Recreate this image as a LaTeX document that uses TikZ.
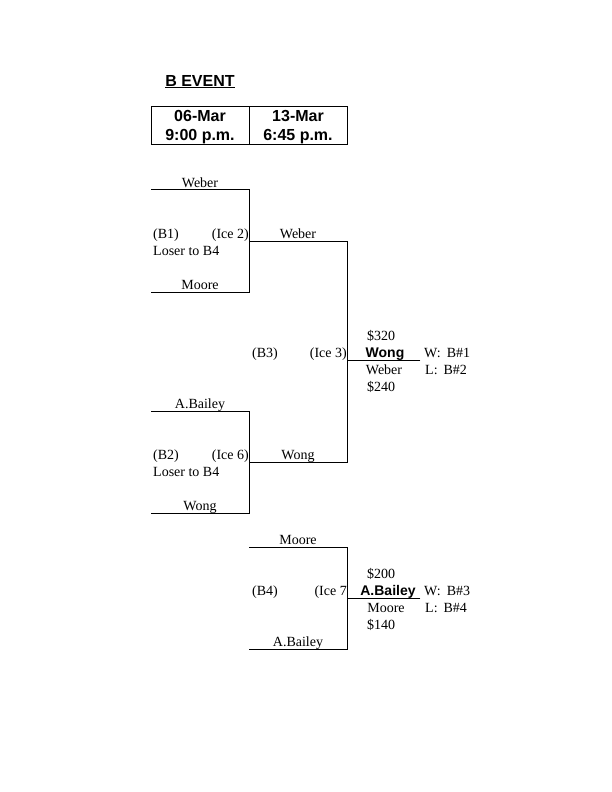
\documentclass[tikz,border=0pt]{standalone}
\usepackage{fontspec}
\setmainfont{Liberation Serif}
\setsansfont{Liberation Sans}
\begin{document}
\begin{tikzpicture}[x=1pt,y=-1pt,
  lbl/.style={font=\fontsize{14}{16}\selectfont, inner sep=0pt, anchor=base},
  lbll/.style={lbl, anchor=base west},
  lblr/.style={lbl, anchor=base east},
  bld/.style={font=\sffamily\bfseries\fontsize{14}{16}\selectfont, inner sep=0pt, anchor=base},
  hdr/.style={font=\sffamily\bfseries\fontsize{16}{19}\selectfont, inner sep=0pt, anchor=base},
  br/.style={line width=0.9pt, line cap=rect}]
\useasboundingbox (0,0) rectangle (612,792);
\fill[white] (0,0) rectangle (612,792);

% header
\node[hdr] (title) at (200,86) {\underline{B EVENT}};
\coordinate (hbtl) at (151,106);
\coordinate (hbbr) at (347,144);
\coordinate (hdt) at (249,106);
\coordinate (hdb) at (249,144);
\draw[br] (hbtl) rectangle (hbbr);
\draw[br] (hdt) -- (hdb);
\node[hdr] (d1) at (200,121) {06-Mar};
\node[hdr] (t1) at (200,140) {9:00 p.m.};
\node[hdr] (d2) at (298,121) {13-Mar};
\node[hdr] (t2) at (298,140) {6:45 p.m.};

% B1 bracket
\coordinate (b1tl) at (151,189);
\coordinate (b1tr) at (249,189);
\coordinate (b1br) at (249,292);
\coordinate (b1bl) at (151,292);
\draw[br] (b1tl) -- (b1tr) -- (b1br) -- (b1bl);
\node[lbl] (b1top) at (200,187) {Weber};
\node[lbl] (b1bot) at (200,289.5) {Moore};
\node[lbll] (b1id) at (153,238) {(B1)};
\node[lblr] (b1ice) at (249,238) {(Ice 2)};
\node[lbll] (b1los) at (153,255) {Loser to B4};

% B2 bracket
\coordinate (b2tl) at (151,411);
\coordinate (b2tr) at (249,411);
\coordinate (b2br) at (249,513);
\coordinate (b2bl) at (151,513);
\draw[br] (b2tl) -- (b2tr) -- (b2br) -- (b2bl);
\node[lbl] (b2top) at (200,408.5) {A.Bailey};
\node[lbl] (b2bot) at (200,510.5) {Wong};
\node[lbll] (b2id) at (153,459) {(B2)};
\node[lblr] (b2ice) at (249,459) {(Ice 6)};
\node[lbll] (b2los) at (153,476) {Loser to B4};

% B3 bracket
\coordinate (b3tl) at (249,241);
\coordinate (b3tr) at (347,241);
\coordinate (b3br) at (347,462);
\coordinate (b3bl) at (249,462);
\draw[br] (b3tl) -- (b3tr) -- (b3br) -- (b3bl);
\coordinate (b3ws) at (347,360);
\coordinate (b3we) at (420,360);
\draw[br] (b3ws) -- (b3we);
\node[lbl] (b3top) at (298,238) {Weber};
\node[lbl] (b3bot) at (298,459) {Wong};
\node[lbll] (b3id) at (252,357) {(B3)};
\node[lblr] (b3ice) at (347,357) {(Ice 3)};
\node[lbll] (b3p1) at (367,340) {\$320};
\node[bld] (b3win) at (385,357) {Wong};
\node[lbl] (b3los) at (384,374) {Weber};
\node[lbll] (b3p2) at (367,391) {\$240};
\node[lbll] (b3w) at (424,357) {W:\hspace{6pt}B\#1};
\node[lbll] (b3l) at (425,374) {L:\hspace{6pt}B\#2};

% B4 bracket
\coordinate (b4tl) at (249,547);
\coordinate (b4tr) at (347,547);
\coordinate (b4br) at (347,649);
\coordinate (b4bl) at (249,649);
\draw[br] (b4tl) -- (b4tr) -- (b4br) -- (b4bl);
\coordinate (b4ws) at (347,598);
\coordinate (b4we) at (420,598);
\draw[br] (b4ws) -- (b4we);
\node[lbl] (b4top) at (298,544.5) {Moore};
\node[lbl] (b4bot) at (298,646) {A.Bailey};
\node[lbll] (b4id) at (252,595) {(B4)};
\node[lblr] (b4ice) at (347,595) {(Ice 7};
\node[lbll] (b4p1) at (367,578) {\$200};
\node[bld] (b4win) at (388,595) {A.Bailey};
\node[lbl] (b4los) at (386,612) {Moore};
\node[lbll] (b4p2) at (367,629) {\$140};
\node[lbll] (b4w) at (424,595) {W:\hspace{6pt}B\#3};
\node[lbll] (b4l) at (425,612) {L:\hspace{6pt}B\#4};
\end{tikzpicture}
\end{document}
